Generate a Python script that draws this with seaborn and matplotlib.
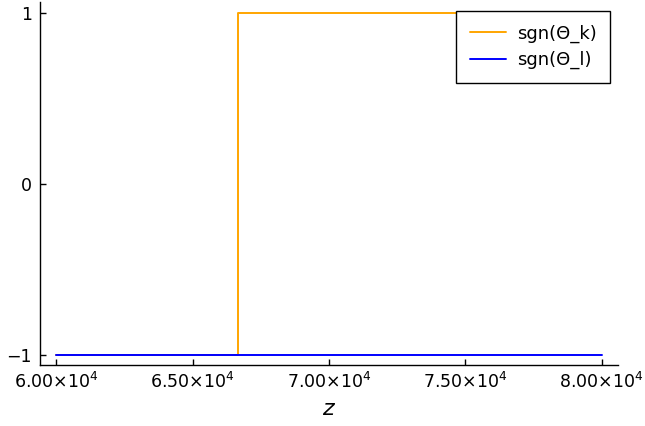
import matplotlib
matplotlib.use("Agg")
import matplotlib.pyplot as plt
import seaborn as sns
import pandas as pd

# sign of the two thetas along z (step changes at the listed z values)
z_vals = [60000, 66667, 80000]
sgn_k = [-1, 1, 1]
sgn_l = [-1, -1, -1]
x_ticks = [60000, 65000, 70000, 75000, 80000]
x_tick_labels = ["6.00×10$^{4}$", "6.50×10$^{4}$", "7.00×10$^{4}$",
                 "7.50×10$^{4}$", "8.00×10$^{4}$"]
y_ticks = [-1, 0, 1]
y_tick_labels = ["−1", "0", "1"]

sns.set_theme(style="white")
plt.rcParams["font.family"] = ["DejaVu Sans"]
plt.rcParams["mathtext.fontset"] = "dejavusans"
plt.rcParams["mathtext.default"] = "regular"
for key in ["text.color", "axes.labelcolor", "xtick.color", "ytick.color"]:
    plt.rcParams[key] = "black"

df = pd.DataFrame({"z": z_vals, "k": sgn_k, "l": sgn_l})

fig = plt.figure(figsize=(6.45, 4.26), dpi=100)
ax = fig.add_axes([40 / 645, 61 / 426, 578 / 645, 363 / 426])

sns.lineplot(data=df, x="z", y="k", ax=ax, color="#FFA500", lw=1.4,
             drawstyle="steps-post", label="sgn(Θ_k)", estimator=None)
sns.lineplot(data=df, x="z", y="l", ax=ax, color="#0000FF", lw=1.4,
             drawstyle="steps-post", label="sgn(Θ_l)", estimator=None)

ax.set_xlim(59400, 80600)
ax.set_ylim(-1.06, 1.065)
ax.set_xticks(x_ticks)
ax.set_xticklabels(x_tick_labels)
ax.set_yticks(y_ticks)
ax.set_yticklabels(y_tick_labels)
ax.tick_params(direction="in", length=4, width=1, colors="black",
               labelsize=12.5, bottom=True, left=True)
ax.tick_params(axis="x", pad=5)
ax.tick_params(axis="y", pad=6)
ax.set_xlabel("$\\mathit{z}$", fontsize=16, labelpad=5)
ax.set_ylabel("")

for side in ["top", "right"]:
    ax.spines[side].set_visible(False)
for side in ["left", "bottom"]:
    ax.spines[side].set_color("black")
    ax.spines[side].set_linewidth(1.0)

leg = ax.legend(loc="upper right", bbox_to_anchor=(0.986, 0.975), fontsize=13,
                frameon=True, fancybox=False, framealpha=1, edgecolor="black",
                borderpad=0.75, labelspacing=0.45, handlelength=2.0,
                handletextpad=0.6, borderaxespad=0)
leg.get_frame().set_linewidth(1.0)
for t in leg.get_texts():
    t.set_color("black")

fig.savefig("out.png", dpi=100)
